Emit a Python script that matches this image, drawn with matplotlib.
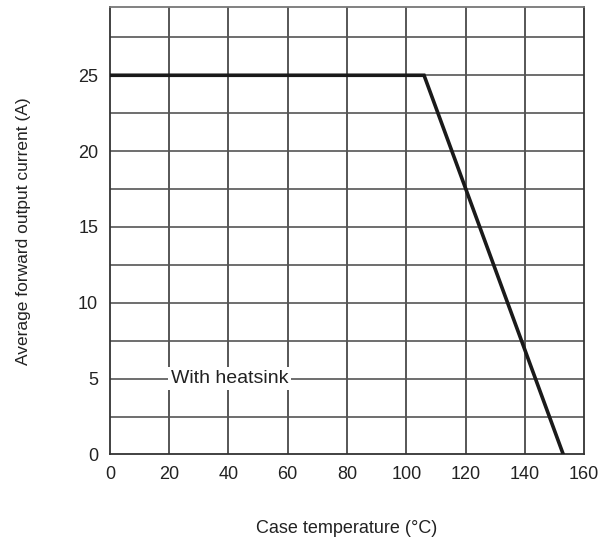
import matplotlib
matplotlib.use("Agg")
import matplotlib.pyplot as plt
import numpy as np

# derating curve: case temperature (C) vs average forward output current (A)
temp = [0, 106, 153]
current = [25, 25, 0]

xticks = [0, 20, 40, 60, 80, 100, 120, 140, 160]
yticks = [0, 5, 10, 15, 20, 25]

plt.rcParams["font.family"] = ["Liberation Sans", "DejaVu Sans"]

fig = plt.figure(figsize=(5.99, 5.39), dpi=100)
ax = fig.add_axes([0.1836, 0.1568, 0.975 - 0.1836, 0.987 - 0.1568])

# grid every 20 C and every 2.5 A
for xv in xticks[1:-1]:
    ax.axvline(xv, color="#3a3a3a", lw=1.2, zorder=1)
for yv in np.arange(2.5, 29, 2.5):
    ax.axhline(yv, color="#555555", lw=1.2, zorder=1)

ax.plot(temp, current, color="#1a1a1a", lw=2.6, zorder=3, solid_joinstyle="miter")

ax.set_xlim(0, 160)
ax.set_ylim(0, 29.5)
ax.set_xticks(xticks)
ax.set_yticks(yticks)
ax.tick_params(length=0, labelsize=13, colors="#222222")
ax.tick_params(axis="y", pad=8.5)
ax.tick_params(axis="x", pad=8)
for s in ax.spines.values():
    s.set_color("#333333")
    s.set_linewidth(1.3)
ax.spines["top"].set_color("#777777")

ax.text(40.3, 5, "With heatsink", ha="center", va="center", fontsize=14,
        color="#222222", zorder=4,
        bbox=dict(facecolor="white", edgecolor="none", pad=2.0))

ax.set_xlabel("Case temperature (\u00b0C)", fontsize=13, color="#222222", labelpad=27)
ax.set_ylabel("Average forward output current (A)", fontsize=12.5, color="#222222", labelpad=34)

fig.savefig("out.png", dpi=100)
